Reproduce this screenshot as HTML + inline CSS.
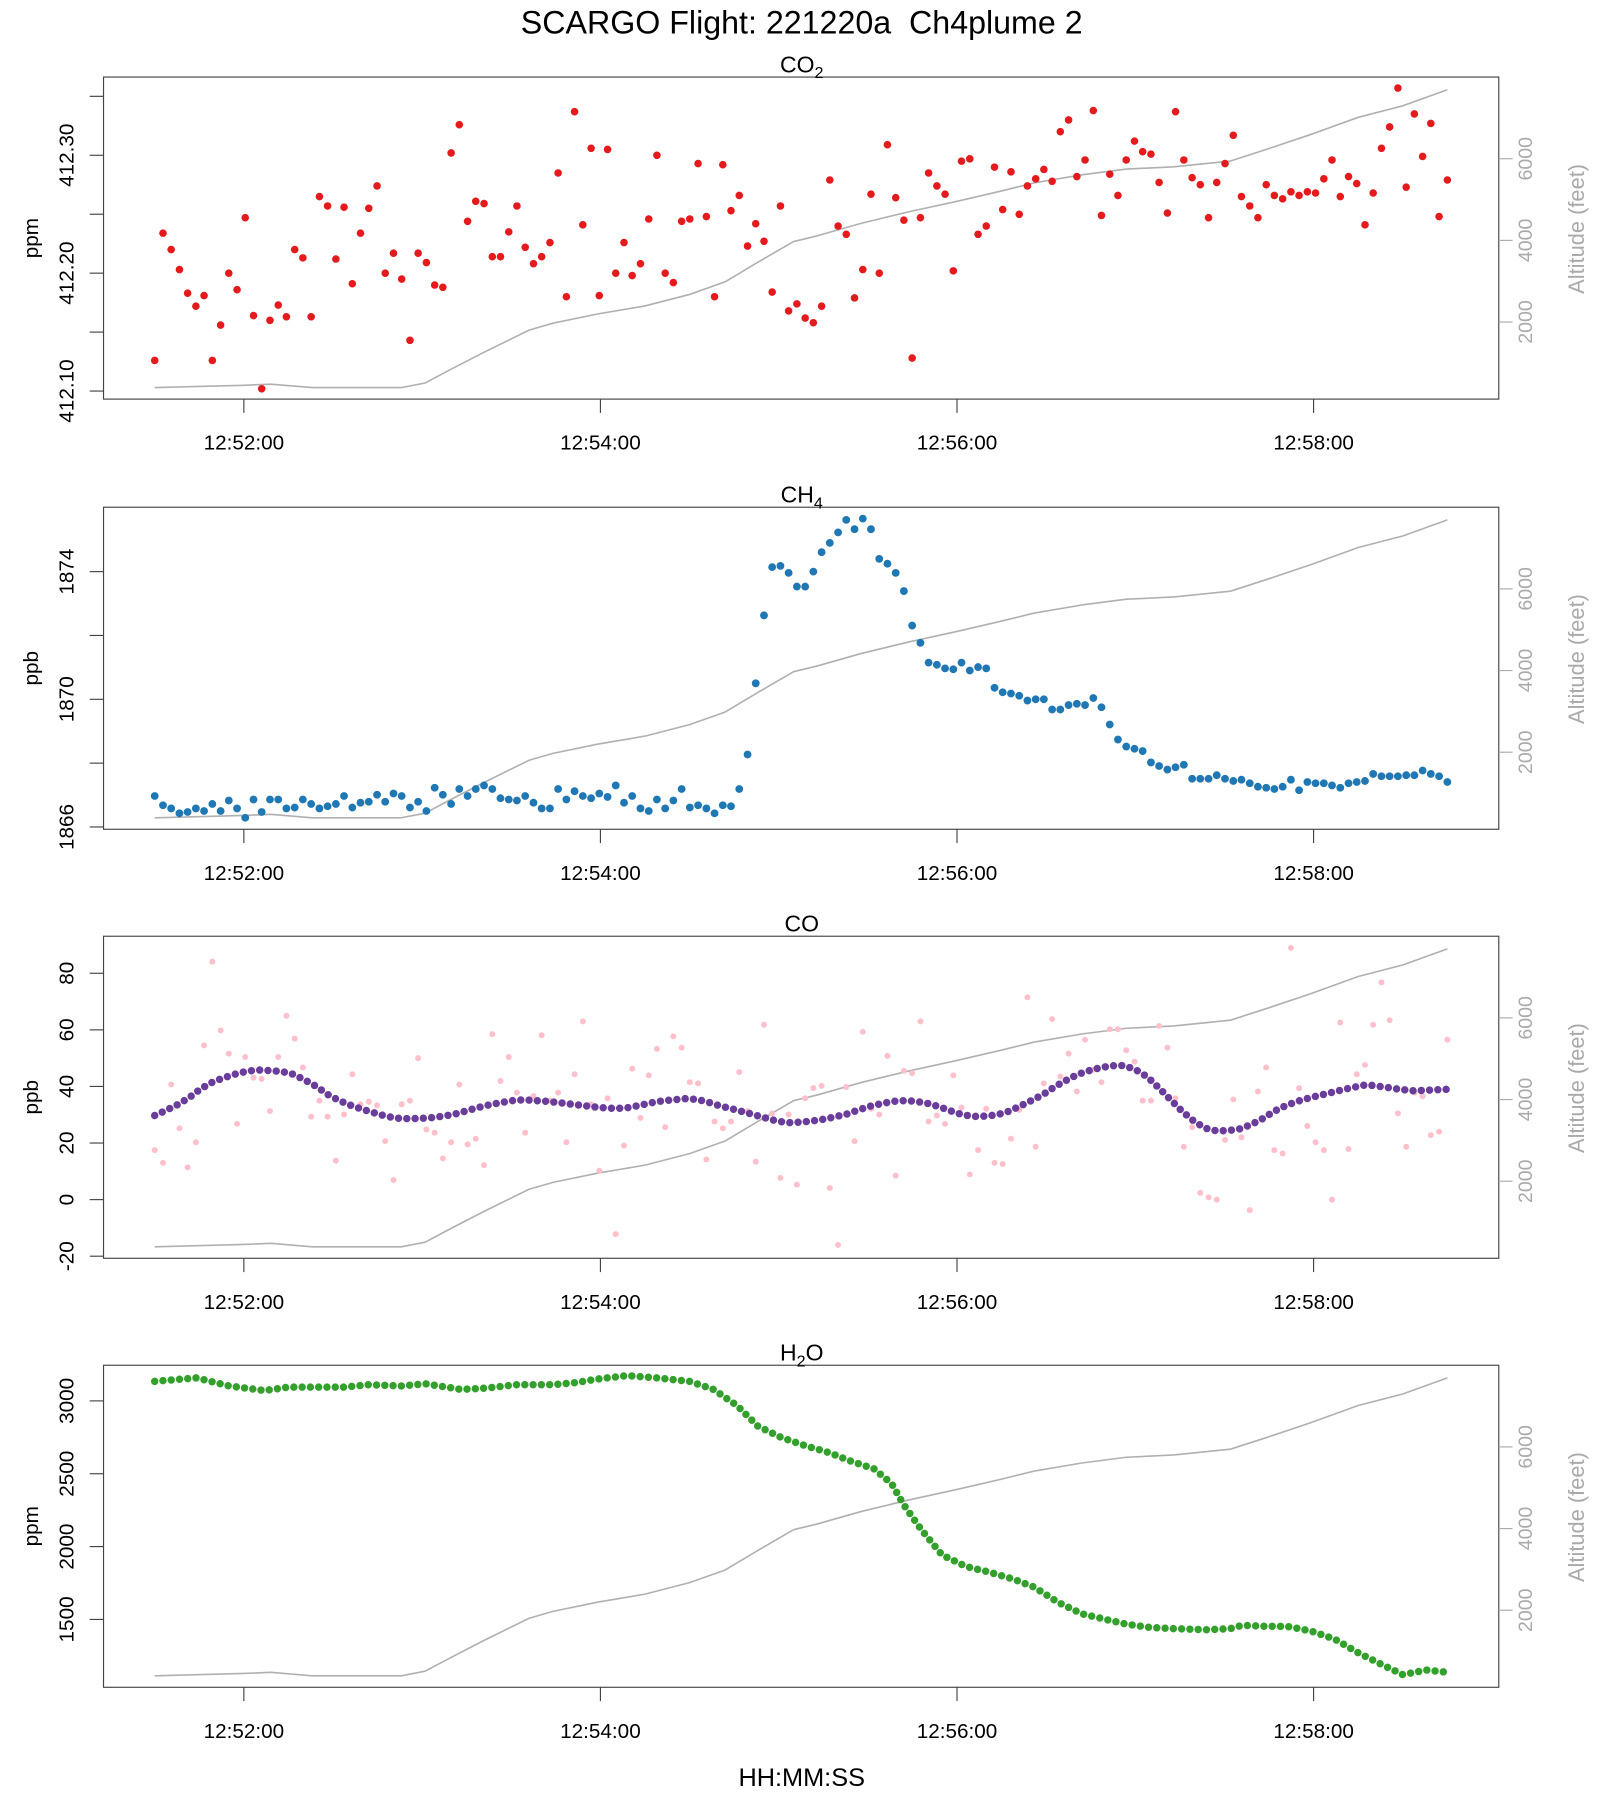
<!DOCTYPE html>
<html><head><meta charset="utf-8"><title>SCARGO Flight 221220a</title>
<style>html,body{margin:0;padding:0;background:#fff}svg{display:block}text{font-family:"Liberation Sans",Arial,sans-serif}</style>
</head><body>
<svg id="chart" xmlns="http://www.w3.org/2000/svg" width="1600" height="1800" viewBox="0 0 1391 1565" preserveAspectRatio="none">
<text x="697" y="29" font-size="28" text-anchor="middle" style="white-space:pre">SCARGO Flight: 221220a  Ch4plume 2</text>
<text x="697" y="1553" font-size="22" text-anchor="middle">HH:MM:SS</text>
</svg>
<script>
// time in seconds relative to 12:52:00
const seriesStart = -30;
const seriesEnd = 405;
const timeTicks = [0, 120, 240, 360];
const timeTickLabels = ["12:52:00", "12:54:00", "12:56:00", "12:58:00"];
const altTime = [-30,0,9,23,34,53,61,69,81,96,104,119,135,150,162,173,185,193,208,224,240,255,266,282,297,313,332,344,359,375,390,405];
const altFeet = [394,451,479,394,394,394,507,817,1268,1803,1972,2197,2394,2676,2986,3465,3972,4113,4423,4704,4958,5211,5409,5606,5747,5803,5944,6226,6592,7014,7296,7690];
const altTicks = [2000, 4000, 6000];

const co2Vals = [412.126,412.234,412.220,412.203,412.183,412.172,412.181,412.126,412.156,412.200,412.186,412.247,412.164,412.102,412.160,412.173,412.163,412.220,412.213,412.163,412.265,412.257,412.212,412.256,412.191,412.234,412.255,412.274,412.200,412.217,412.195,412.143,412.217,412.209,412.190,412.188,412.302,412.326,412.244,412.261,412.259,412.214,412.214,412.235,412.257,412.222,412.208,412.214,412.226,412.285,412.180,412.337,412.241,412.306,412.181,412.305,412.200,412.226,412.198,412.208,412.246,412.300,412.200,412.192,412.244,412.246,412.293,412.248,412.180,412.292,412.253,412.266,412.223,412.242,412.227,412.184,412.257,412.168,412.174,412.162,412.158,412.172,412.279,412.240,412.233,412.179,412.203,412.267,412.200,412.309,412.264,412.245,412.128,412.247,412.285,412.274,412.267,412.202,412.295,412.297,412.233,412.240,412.290,412.254,412.286,412.250,412.274,412.280,412.288,412.278,412.320,412.330,412.282,412.296,412.338,412.249,412.284,412.266,412.296,412.312,412.303,412.301,412.277,412.251,412.337,412.296,412.281,412.275,412.247,412.277,412.293,412.317,412.265,412.257,412.247,412.275,412.266,412.263,412.269,412.266,412.269,412.268,412.280,412.296,412.265,412.282,412.276,412.241,412.268,412.306,412.324,412.357,412.273,412.335,412.299,412.327,412.248,412.279];
const co2Ticks = [412.10,412.15,412.20,412.25,412.30,412.35];
const co2TickLabels = ["412.10","","412.20","","412.30",""];

const ch4Vals = [1866.97,1866.68,1866.58,1866.43,1866.47,1866.58,1866.50,1866.72,1866.50,1866.83,1866.58,1866.29,1866.86,1866.47,1866.86,1866.86,1866.58,1866.61,1866.86,1866.72,1866.58,1866.65,1866.72,1866.97,1866.61,1866.76,1866.79,1867.01,1866.79,1867.05,1866.97,1866.61,1866.79,1866.50,1867.23,1867.01,1866.72,1867.19,1866.97,1867.19,1867.30,1867.19,1866.90,1866.86,1866.83,1866.97,1866.76,1866.58,1866.58,1867.19,1866.86,1867.12,1866.97,1866.90,1867.05,1866.94,1867.30,1866.76,1866.97,1866.58,1866.50,1866.86,1866.58,1866.83,1867.19,1866.61,1866.68,1866.58,1866.43,1866.68,1866.65,1867.19,1868.27,1870.50,1872.63,1874.14,1874.18,1873.96,1873.53,1873.53,1874.00,1874.61,1874.90,1875.23,1875.62,1875.33,1875.66,1875.33,1874.40,1874.25,1873.96,1873.39,1872.31,1871.77,1871.15,1871.08,1870.97,1870.94,1871.15,1870.90,1871.01,1870.97,1870.36,1870.22,1870.18,1870.11,1869.96,1870.00,1870.00,1869.68,1869.68,1869.82,1869.86,1869.82,1870.04,1869.75,1869.21,1868.74,1868.52,1868.45,1868.38,1868.02,1867.91,1867.80,1867.87,1867.95,1867.51,1867.51,1867.51,1867.62,1867.51,1867.44,1867.48,1867.37,1867.26,1867.23,1867.19,1867.26,1867.48,1867.15,1867.41,1867.37,1867.37,1867.30,1867.23,1867.37,1867.41,1867.44,1867.66,1867.59,1867.59,1867.59,1867.62,1867.62,1867.77,1867.66,1867.59,1867.41];
const ch4Ticks = [1866,1868,1870,1872,1874];
const ch4TickLabels = ["1866","","1870","","1874"];

const coRawVals = [17.5,13,40.7,25.2,11.4,20.3,54.5,84.1,59.8,51.6,26.8,50.4,43.1,42.7,31.3,50.4,65,56.9,46.7,29.3,35,29.3,13.8,30.1,44.3,33.7,34.6,33.3,20.7,6.9,33.7,35,50,24.8,23.6,14.6,20.3,40.7,19.5,21.5,12.2,58.5,41.9,50.4,37.8,23.6,36.6,58.1,35,37.8,20.3,44.3,63,33.7,10.2,35.8,-12.2,19.1,46.3,28.9,43.9,53.3,25.6,57.7,53.7,41.5,41.1,14.2,27.6,25.2,27.6,45.1,31.3,13.4,61.8,30.5,7.7,30.1,5.3,35.8,39.4,40.2,4.1,-16,39.8,20.7,59.3,32.1,30.1,50.8,8.5,45.5,44.7,63,27.6,29.7,26.8,43.9,32.5,8.9,17.5,32.1,13,12.6,21.5,31.7,71.5,18.7,41.1,63.8,43.5,51.6,38.2,56.5,45.9,41.5,60.2,60.2,52.8,48.8,35,35,61.4,53.7,35.8,18.7,25.6,2.4,0.8,0,21.1,35.4,22,-3.7,38.2,46.7,17.5,16.3,89,39.4,26,20.3,17.5,0,62.6,17.9,44.3,47.6,61.8,76.8,63.4,30.5,18.7,37.8,36.6,22.8,24,56.5];
const coSmoothVals = [29.7,31.6,33.6,36.1,39.2,41.5,43.1,44.4,45.4,45.8,45.6,45.3,44.3,42.3,40.0,37.1,35.0,33.3,31.9,30.7,29.5,28.8,28.6,28.7,29.0,29.5,30.2,31.4,32.5,33.5,34.3,35.0,35.3,35.0,34.7,34.3,33.8,33.3,32.8,32.4,32.2,32.5,33.3,34.2,34.9,35.3,35.7,35.4,34.4,33.1,32.1,31.0,29.9,28.8,27.7,27.2,27.4,27.8,28.4,29.3,30.3,31.7,33.0,34.0,34.7,35.0,34.7,34.0,32.8,31.3,30.0,29.4,29.5,30.0,31.2,33.1,35.1,37.2,39.9,42.2,44.3,45.6,46.7,47.3,47.4,45.9,43.4,39.5,35.4,31.3,27.9,25.3,24.3,24.4,25.0,26.5,28.6,31.2,33.2,34.7,35.9,36.9,37.9,38.9,39.8,40.6,40.1,39.5,38.9,38.5,38.6,38.8,39.0];
const coTicks = [-20,0,20,40,60,80];
const coTickLabels = ["-20","0","20","40","60","80"];

const h2oTime = [-30,-16,-5,7,15,34,42,53,61,73,81,92,104,112,119,129,139,150,158,166,173,181,189,197,204,212,218,222,228,235,243,251,259,266,274,282,290,297,305,313,324,332,336,344,351,359,367,375,382,390,398,405];
const h2oVals = [3134,3158,3103,3071,3095,3095,3111,3103,3118,3079,3087,3111,3111,3126,3150,3174,3158,3134,3079,2968,2826,2747,2692,2645,2589,2534,2432,2289,2116,1942,1863,1824,1776,1721,1618,1539,1500,1468,1445,1437,1429,1437,1460,1453,1453,1421,1366,1271,1200,1121,1153,1137];
const h2oTicks = [1500,2000,2500,3000];
const h2oTickLabels = ["1500","2000","2500","3000"];

const NS = "http://www.w3.org/2000/svg";
const svg = document.getElementById('chart');
const L = 90, R = 1303, H = 280;
function xScale(t){ return 212 + t * 310 / 120; }
function mk(tag, attrs, parent){ const e = document.createElementNS(NS, tag); for (const k in attrs) e.setAttribute(k, attrs[k]); (parent||svg).appendChild(e); return e; }
function seriesTime(i, n){ return seriesStart + (seriesEnd - seriesStart) * i / (n - 1); }

function panel(name, pt, title, sub, rest, ylab, yScale, ticks, tickLabels){
  const g = mk('g', {});
  
  
  const box = mk('rect', {x:L, y:pt, width:R-L, height:H, fill:'none', stroke:'#444', 'stroke-width':1}, g);
  
  
  const tt = mk('text', {x:697, y:pt-4, 'font-size':20, 'text-anchor':'middle'}, g);
  
  
  tt.appendChild(document.createTextNode(title));
  if (sub){ const ts = mk('tspan', {'font-size':14, dy:5}, tt); ts.textContent = sub; const tr = mk('tspan', {dy:-5}, tt); tr.textContent = rest; }
  timeTicks.forEach((t, i) => {
    const x = xScale(t);
    const tk = mk('line', {x1:x, x2:x, y1:pt+H, y2:pt+H+12, stroke:'#444'}, g);
    
    
    const lb = mk('text', {x:x, y:pt+H+44, 'font-size':18, 'text-anchor':'middle'}, g);
    
    
    lb.textContent = timeTickLabels[i];
  });
  ticks.forEach((v, i) => {
    const y = yScale(v);
    const tk = mk('line', {x1:L-12, x2:L, y1:y, y2:y, stroke:'#444'}, g);
    
    
    if (tickLabels[i]){
      const lb = mk('text', {x:0, y:0, 'font-size':18, 'text-anchor':'middle', transform:`translate(64,${y}) rotate(-90)`}, g);
      
      
      lb.textContent = tickLabels[i];
    }
  });
  const yl = mk('text', {x:0, y:0, 'font-size':18, 'text-anchor':'middle', transform:`translate(33,${pt+H/2}) rotate(-90)`}, g);
  
  
  yl.textContent = ylab;
  const altY = a => pt + 284 - a * 0.0355;
  altTicks.forEach(a => {
    const y = altY(a);
    const tk = mk('line', {x1:R, x2:R+12, y1:y, y2:y, stroke:'#aaa'}, g);
    
    
    const lb = mk('text', {x:0, y:0, 'font-size':17, fill:'#aaa', 'text-anchor':'middle', transform:`translate(1332,${y}) rotate(-90)`}, g);
    
    
    lb.textContent = String(a);
  });
  const al = mk('text', {x:0, y:0, 'font-size':19, fill:'#aaa', 'text-anchor':'middle', transform:`translate(1377,${pt+H/2-8}) rotate(-90)`}, g);
  
  
  al.textContent = 'Altitude (feet)';
  const pts = altTime.map((t, i) => xScale(t).toFixed(1) + ',' + altY(altFeet[i]).toFixed(1)).join(' ');
  const line = mk('polyline', {points:pts, fill:'none', stroke:'#b0b0b0', 'stroke-width':1.4, 'stroke-linejoin':'round'}, g);
  
  
  return g;
}
function dots(g, name, vals, yScale, color, r){
  vals.forEach((v, i) => {
    const c = mk('circle', {cx:xScale(seriesTime(i, vals.length)).toFixed(1), cy:yScale(v).toFixed(1), r:r, fill:color}, g);
    
    
  });
}
function dotLine(g, name, times, vals, yScale, color){
  const pts = vals.map((v, i) => xScale(times(i)).toFixed(1) + ',' + yScale(v).toFixed(1)).join(' ');
  const p = mk('polyline', {points:pts, fill:'none', stroke:color, 'stroke-width':6.5, 'stroke-linecap':'round', 'stroke-dasharray':'0 7.2'}, g);
  
  
}

let pTop = 67;
const yCO2 = (t => v => t + 273 - (v - 412.10) * 1025)(pTop);
let g = panel('co2', pTop, 'CO', '2', '', 'ppm', yCO2, co2Ticks, co2TickLabels);
dots(g, 'co2', co2Vals, yCO2, '#e41a1c', 3.3);

pTop = 441;
const yCH4 = (t => v => t + 278 - (v - 1866) * 27.75)(pTop);
g = panel('ch4', pTop, 'CH', '4', '', 'ppb', yCH4, ch4Ticks, ch4TickLabels);
dots(g, 'ch4', ch4Vals, yCH4, '#1f78b4', 3.4);

pTop = 814;
const yCO = (t => v => t + 229 - v * 2.46)(pTop);
g = panel('co', pTop, 'CO', '', '', 'ppb', yCO, coTicks, coTickLabels);
dots(g, 'co-raw', coRawVals, yCO, '#ffc0cb', 2.6);
dotLine(g, 'co-smooth', i => seriesTime(i, coSmoothVals.length), coSmoothVals, yCO, '#6a3d9a');

pTop = 1187;
const yH2O = (t => v => t + 31 - (v - 3000) * 0.12667)(pTop);
g = panel('h2o', pTop, 'H', '2', 'O', 'ppm', yH2O, h2oTicks, h2oTickLabels);
dotLine(g, 'h2o', i => h2oTime[i], h2oVals, yH2O, '#33a02c');
</script>
</body></html>
